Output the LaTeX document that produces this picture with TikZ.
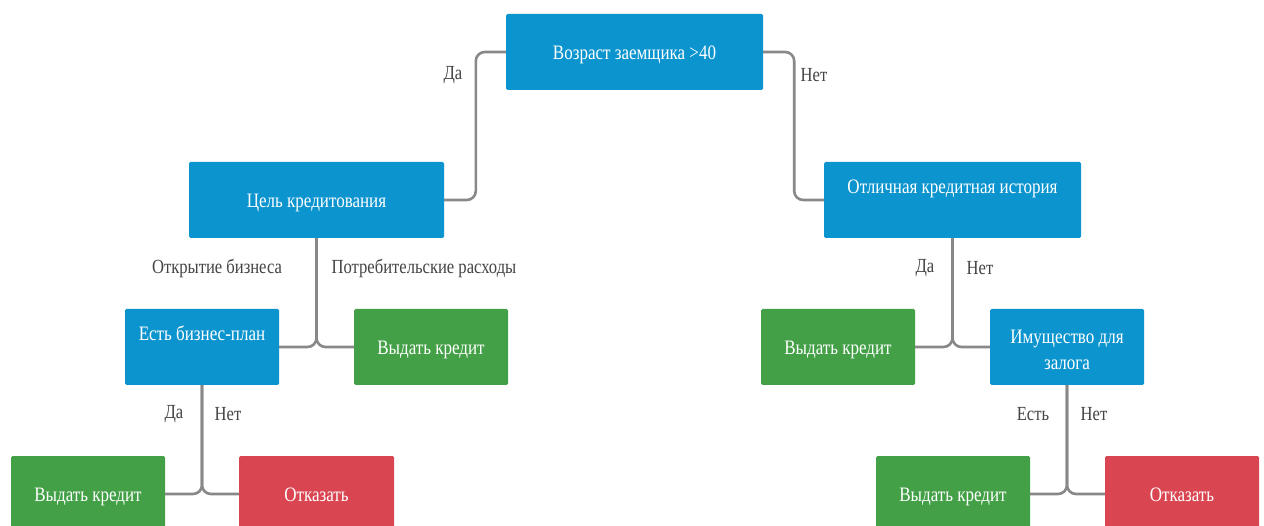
\documentclass[tikz,border=0pt]{standalone}
\usepackage{fontspec}
\setmainfont{Liberation Serif}[FakeStretch=0.83]
\definecolor{cblue}{RGB}{11,148,206}
\definecolor{cgreen}{RGB}{67,160,71}
\definecolor{cred}{RGB}{217,70,82}
\definecolor{cline}{RGB}{136,136,136}
\definecolor{clabel}{RGB}{68,68,68}
\tikzset{
  box/.style={rectangle, rounded corners=1.5pt, inner sep=0pt, text=white,
    font=\fontsize{20.5}{26}\selectfont, minimum height=76pt,
    text height=15pt, text depth=0pt},
  bluebox/.style={box, fill=cblue},
  greenbox/.style={box, fill=cgreen},
  redbox/.style={box, fill=cred},
  conn/.style={draw=cline, line width=2.6pt, rounded corners=9pt},
  lbl/.style={text=clabel, font=\fontsize{20}{22}\selectfont, inner sep=1pt},
  upper/.style={text height=15pt, text depth=28pt}
}
\begin{document}
\begin{tikzpicture}[x=1pt,y=-1pt]
\clip (0,0) rectangle (1264,526);
\useasboundingbox (0,0) rectangle (1264,526);
\fill[white] (0,0) rectangle (1264,526);
% nodes
\node[bluebox, minimum width=257pt] (n0) at (634.5,52) {Возраст заемщика >40};
\node[bluebox, minimum width=255pt] (c1) at (316.5,200) {Цель кредитования};
\node[bluebox, minimum width=257pt, upper] (c2) at (952.5,200) {Отличная кредитная история};
\node[bluebox, minimum width=154pt, upper] (b1) at (202,347) {Есть бизнес-план};
\node[greenbox, minimum width=154pt] (g1) at (431,347) {Выдать кредит};
\node[greenbox, minimum width=154pt] (g2) at (838,347) {Выдать кредит};
\node[bluebox, minimum width=154pt, align=center, text height={}, text depth={}] (b2) at (1067,347) {\rule{0pt}{20pt}Имущество для\\залога};
\node[greenbox, minimum width=154pt] (g3) at (88,494) {Выдать кредит};
\node[redbox, minimum width=155pt] (r1) at (316.5,494) {Отказать};
\node[greenbox, minimum width=154pt] (g4) at (953,494) {Выдать кредит};
\node[redbox, minimum width=154pt] (r2) at (1182,494) {Отказать};
% connectors
\draw[conn] (n0.west) -- ++(-30,0) |- (c1.east);
\draw[conn] (n0.east) -- ++(31,0) |- (c2.west);
\draw[conn] (c1.south) |- (b1.east);
\draw[conn] (c1.south) |- (g1.west);
\draw[conn] (c2.south) |- (g2.east);
\draw[conn] (c2.south) |- (b2.west);
\draw[conn] (b1.south) |- (g3.east);
\draw[conn] (b1.south) |- (r1.west);
\draw[conn] (b2.south) |- (g4.east);
\draw[conn] (b2.south) |- (r2.west);
% labels
\node[lbl] (l1) at (453,75) {Да};
\node[lbl] (l2) at (814,75) {Нет};
\node[lbl] (l3) at (217,268) {Открытие бизнеса};
\node[lbl] (l4) at (424,268) {Потребительские расходы};
\node[lbl] (l5) at (925,268) {Да};
\node[lbl] (l6) at (980,268) {Нет};
\node[lbl] (l7) at (174,414) {Да};
\node[lbl] (l8) at (228,414) {Нет};
\node[lbl] (l9) at (1033,414) {Есть};
\node[lbl] (l10) at (1094,414) {Нет};
\end{tikzpicture}
\end{document}
